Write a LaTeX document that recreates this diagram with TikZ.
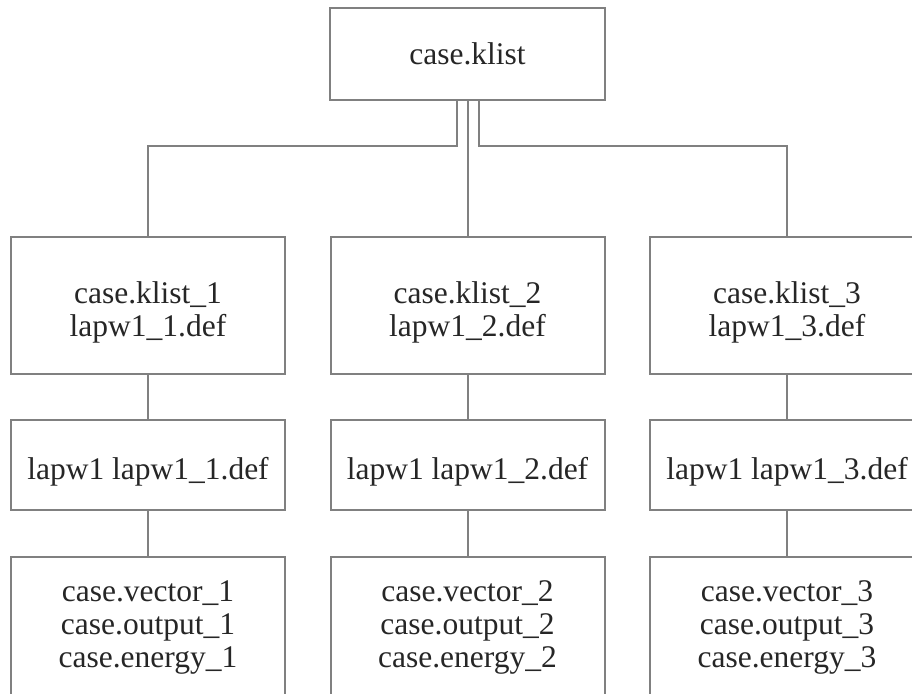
\documentclass[tikz,border=0pt]{standalone}
\usepackage{fontspec}
\setmainfont{Liberation Serif}
\definecolor{linegray}{RGB}{128,128,128}
\begin{document}
\begin{tikzpicture}[x=1pt,y=-1pt,
  box/.style={draw=linegray, line width=2pt, minimum width=274pt, inner sep=0pt},
  txt/.style={inner sep=0pt, align=center, font=\fontsize{31.5}{33}\selectfont, text=black!85},
  r1/.style={box, minimum height=137pt},
  r2/.style={box, minimum height=90pt},
  r3/.style={box, minimum height=140pt},
  link/.style={draw=linegray, line width=2pt}]
\useasboundingbox (0,0) rectangle (912,693);
\begin{scope}
\clip (0,0) rectangle (912,693);
\node[box, minimum width=275pt, minimum height=92pt] (top) at (467.5,54) {};
\node[txt] (topt) at (top.center) {case.klist};
\node[r1] (a1) at (148,305.5) {};
\node[r1] (b1) at (467.5,305.5) {};
\node[r1] (c1) at (787,305.5) {};
\node[txt] (a1t) at ([yshift=-7pt]a1.center) {case.klist\textunderscore 1\\lapw1\textunderscore 1.def};
\node[txt] (b1t) at ([yshift=-7pt]b1.center) {case.klist\textunderscore 2\\lapw1\textunderscore 2.def};
\node[txt] (c1t) at ([yshift=-7pt]c1.center) {case.klist\textunderscore 3\\lapw1\textunderscore 3.def};
\node[r2] (a2) at (148,465) {};
\node[r2] (b2) at (467.5,465) {};
\node[r2] (c2) at (787,465) {};
\node[txt] (a2t) at ([yshift=-7pt]a2.center) {lapw1 lapw1\textunderscore 1.def};
\node[txt] (b2t) at ([yshift=-7pt]b2.center) {lapw1 lapw1\textunderscore 2.def};
\node[txt] (c2t) at ([yshift=-7pt]c2.center) {lapw1 lapw1\textunderscore 3.def};
\node[r3] (a3) at (148,627) {};
\node[r3] (b3) at (467.5,627) {};
\node[r3] (c3) at (787,627) {};
\node[txt] (a3t) at (a3.center) {case.vector\textunderscore 1\\case.output\textunderscore 1\\case.energy\textunderscore 1};
\node[txt] (b3t) at (b3.center) {case.vector\textunderscore 2\\case.output\textunderscore 2\\case.energy\textunderscore 2};
\node[txt] (c3t) at (c3.center) {case.vector\textunderscore 3\\case.output\textunderscore 3\\case.energy\textunderscore 3};
\draw[link] (top.south) -- (b1.north);
\draw[link] ([xshift=-11pt]top.south) -- ++(0,45) -| (a1.north);
\draw[link] ([xshift=11pt]top.south) -- ++(0,45) -| (c1.north);
\draw[link] (a1) -- (a2);
\draw[link] (b1) -- (b2);
\draw[link] (c1) -- (c2);
\draw[link] (a2) -- (a3);
\draw[link] (b2) -- (b3);
\draw[link] (c2) -- (c3);
\end{scope}
\end{tikzpicture}
\end{document}
